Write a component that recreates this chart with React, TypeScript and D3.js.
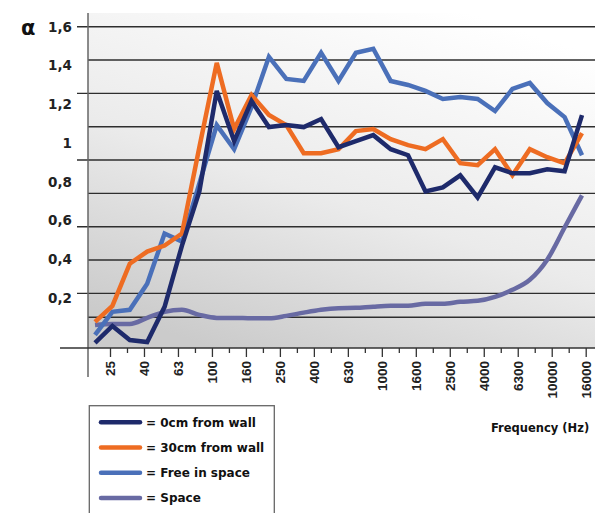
import * as React from "react";
import * as d3 from "d3";

// 1/3 octave bands (Hz)
const frequencies = [
  "25", "31.5", "40", "50", "63", "80", "100", "125", "160", "200",
  "250", "315", "400", "500", "630", "800", "1000", "1250", "1600", "2000",
  "2500", "3150", "4000", "5000", "6300", "8000", "10000", "12500", "16000",
];

const wall0 = [
  0.025, 0.11, 0.04, 0.03, 0.205, 0.51, 0.78, 1.28, 1.03, 1.23,
  1.1, 1.11, 1.1, 1.14, 1.0, 1.03, 1.06, 0.99, 0.96, 0.78,
  0.8, 0.86, 0.75, 0.9, 0.87, 0.87, 0.89, 0.88, 1.16,
];
const wall30 = [
  0.13, 0.21, 0.42, 0.48, 0.51, 0.57, 1.0, 1.42, 1.09, 1.26,
  1.16, 1.11, 0.97, 0.97, 0.99, 1.08, 1.09, 1.04, 1.01, 0.99,
  1.04, 0.92, 0.91, 0.99, 0.86, 0.99, 0.95, 0.92, 1.07,
];
const freeInSpace = [
  0.065, 0.18, 0.19, 0.32, 0.57, 0.53, 0.82, 1.11, 0.99, 1.2,
  1.45, 1.34, 1.33, 1.47, 1.33, 1.47, 1.49, 1.33, 1.31, 1.28,
  1.24, 1.25, 1.24, 1.18, 1.29, 1.32, 1.22, 1.15, 0.96,
];
const space = [
  0.115, 0.12, 0.12, 0.15, 0.18, 0.19, 0.165, 0.15, 0.15, 0.148,
  0.148, 0.16, 0.176, 0.19, 0.198, 0.2, 0.206, 0.21, 0.21, 0.22,
  0.22, 0.23, 0.235, 0.255, 0.29, 0.34, 0.44, 0.6, 0.76,
];

const yTickLabels = [1.6, 1.4, 1.2, 1, 0.8, 0.6, 0.4, 0.2];
const gridValues = [1.6, 1.434, 1.268, 1.102, 0.936, 0.77, 0.604, 0.438, 0.272, 0.153];
const gridTicked = [1.6, 1.268, 0.936, 0.604, 0.272];

const seriesNames = ["= 0cm from wall", "= 30cm from wall", "= Free in space", "= Space"];
const seriesColors = ["#1e2a6b", "#ee6c22", "#4a70b9", "#686aa3"];

export default function App() {
  const ref = React.useRef<SVGSVGElement>(null);

  React.useEffect(() => {
    const svg = d3.select(ref.current);
    svg.selectAll("*").remove();

    const axisX = 88;
    const baseY = 348;
    const rightX = 595;

    const y = d3.scaleLinear().domain([0, 1.6]).range([baseY, 26.7]);
    const yLabel = d3.scaleLinear().domain([0, 1.6]).range([337, 27]);
    const xAxis = d3.scalePoint<string>().domain(frequencies).range([110, 585.7]);
    const xData = d3.scalePoint<string>().domain(frequencies).range([95, 582]);

    // background gradient
    const grad = svg
      .append("defs")
      .append("linearGradient")
      .attr("id", "bg")
      .attr("x1", 0.75)
      .attr("y1", 0)
      .attr("x2", 0.25)
      .attr("y2", 1);
    grad.append("stop").attr("offset", 0).attr("stop-color", "#ffffff");
    grad.append("stop").attr("offset", 0.55).attr("stop-color", "#ebebeb");
    grad.append("stop").attr("offset", 1).attr("stop-color", "#cbcbcb");

    svg
      .append("rect")
      .attr("x", axisX)
      .attr("y", 13)
      .attr("width", rightX - axisX)
      .attr("height", baseY - 13)
      .attr("fill", "url(#bg)");

    // grid
    svg
      .append("g")
      .selectAll("line")
      .data(gridValues)
      .enter()
      .append("line")
      .attr("x1", (d) => (gridTicked.includes(d) ? 77 : axisX))
      .attr("x2", rightX)
      .attr("y1", (d) => y(d))
      .attr("y2", (d) => y(d))
      .attr("stroke", "#2e2e2e")
      .attr("stroke-width", 1.4);

    // y axis line
    svg
      .append("line")
      .attr("x1", axisX)
      .attr("x2", axisX)
      .attr("y1", 13)
      .attr("y2", 377)
      .attr("stroke", "#666")
      .attr("stroke-width", 1.5);

    // y labels
    svg
      .append("g")
      .selectAll("text")
      .data(yTickLabels)
      .enter()
      .append("text")
      .attr("x", 72)
      .attr("y", (d) => yLabel(d))
      .attr("dy", "0.35em")
      .attr("text-anchor", "end")
      .attr("font-family", "DejaVu Sans")
      .attr("font-weight", "bold")
      .attr("font-size", 13.5)
      .attr("fill", "#222")
      .text((d) => String(d).replace(".", ","));

    svg
      .append("text")
      .attr("x", 21)
      .attr("y", 35)
      .attr("font-family", "DejaVu Sans")
      .attr("font-weight", "bold")
      .attr("font-size", 21)
      .attr("fill", "#111")
      .text("α");

    // x axis
    const gx = svg
      .append("g")
      .attr("transform", "translate(0," + baseY + ")")
      .call(
        d3
          .axisBottom(xAxis)
          .tickSizeOuter(0)
          .tickFormat((d, i) => (i % 2 === 0 ? d : ""))
      );
    gx.select(".domain").remove();
    gx.selectAll(".tick line")
      .attr("y2", (d, i) => (i % 2 === 0 ? 9 : 5))
      .attr("stroke", "#333")
      .attr("stroke-width", 1.3);
    gx.selectAll(".tick text")
      .attr("transform", "rotate(-90)")
      .attr("text-anchor", "end")
      .attr("x", -13)
      .attr("y", 0)
      .attr("dy", "0.36em")
      .attr("font-family", "Liberation Sans")
      .attr("font-weight", "bold")
      .attr("font-size", 13.5)
      .attr("fill", "#222");

    svg
      .append("line")
      .attr("x1", 60)
      .attr("x2", rightX)
      .attr("y1", baseY)
      .attr("y2", baseY)
      .attr("stroke", "#333")
      .attr("stroke-width", 1.5);

    // series
    const allSeries = [wall0, wall30, freeInSpace, space];
    const drawOrder = [3, 2, 1, 0];
    drawOrder.forEach((k) => {
      const line = d3
        .line<number>()
        .x((d, i) => xData(frequencies[i])!)
        .y((d) => y(d))
        .curve(k === 3 ? d3.curveMonotoneX : d3.curveLinear);
      svg
        .append("path")
        .attr("d", line(allSeries[k]))
        .attr("fill", "none")
        .attr("stroke", seriesColors[k])
        .attr("stroke-width", 4.5)
        .attr("stroke-linejoin", "miter");
    });

    // legend
    svg
      .append("rect")
      .attr("x", 89.3)
      .attr("y", 405.7)
      .attr("width", 185)
      .attr("height", 120)
      .attr("fill", "#fff")
      .attr("stroke", "#666")
      .attr("stroke-width", 1.3);

    const legend = svg
      .append("g")
      .selectAll("g")
      .data(seriesNames)
      .enter()
      .append("g")
      .attr("transform", (d, i) => "translate(0," + (422.3 + i * 25.2) + ")");
    legend
      .append("line")
      .attr("x1", 101)
      .attr("x2", 140)
      .attr("stroke", (d, i) => seriesColors[i])
      .attr("stroke-width", 4.5)
      .attr("stroke-linecap", "round");
    legend
      .append("text")
      .attr("x", 146)
      .attr("dy", "0.36em")
      .attr("font-family", "DejaVu Sans")
      .attr("font-weight", "bold")
      .attr("font-size", 12)
      .attr("fill", "#111")
      .text((d) => d);

    svg
      .append("text")
      .attr("x", 491)
      .attr("y", 432)
      .attr("font-family", "DejaVu Sans")
      .attr("font-weight", "bold")
      .attr("font-size", 11.5)
      .attr("fill", "#111")
      .text("Frequency (Hz)");
  }, []);

  return (
    <svg
      ref={ref}
      width={595}
      height={513}
      style={{ position: "absolute", left: 0, top: 0, background: "#fff" }}
    />
  );
}
